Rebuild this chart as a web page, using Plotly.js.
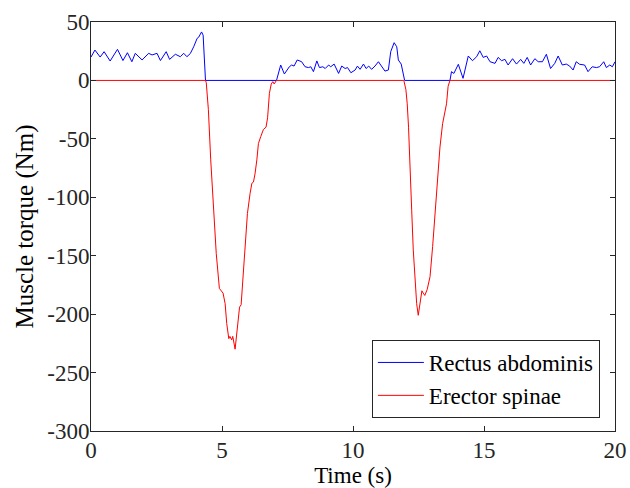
<!DOCTYPE html>
<html>
<head>
<meta charset="utf-8">
<script src="https://cdn.plot.ly/plotly-3.0.1.min.js"></script>
<style>html,body{margin:0;padding:0;background:#fff;}#chart{width:630px;height:488px;}</style>
</head>
<body>
<div id="chart"></div>
<script>
// Rectus abdominis (blue)
const blueT = [0,0.15,0.35,0.5,0.73,1.01,1.22,1.39,1.56,1.69,1.95,2.2,2.33,2.52,2.65,2.87,3.0,3.22,3.41,3.54,3.66,3.79,3.92,4.05,4.11,4.22,4.28,4.37,
  7.08,7.24,7.38,7.57,7.66,7.75,7.87,8.04,8.17,8.3,8.39,8.49,8.62,8.72,8.85,8.94,9.07,9.15,9.28,9.45,9.57,9.7,9.79,9.92,10.08,10.17,10.27,10.4,10.5,10.6,10.71,10.84,10.97,11.09,11.22,11.35,11.44,11.57,11.67,11.73,11.84,11.97,
  13.7,13.76,13.85,14.02,14.2,14.4,14.56,14.72,14.84,14.97,15.1,15.23,15.42,15.54,15.67,15.8,15.92,16.09,16.24,16.4,16.52,16.65,16.78,16.94,17.07,17.23,17.38,17.54,17.7,17.83,17.99,18.14,18.27,18.4,18.52,18.65,18.84,18.97,19.13,19.29,19.41,19.57,19.67,19.8,19.9,20];
const blueV = [20,26,20,24.6,16.6,26.6,17,23.7,16,23.2,17.5,23.2,21.8,23.2,17,24.6,18,22.4,20.3,23.2,20.3,23,28.8,36,37,41.5,38.7,0,
  0,13.2,5.5,11.7,13.2,12.3,17.5,16,11.7,11,11.7,7.5,16.7,11,11.7,10.2,13.2,11.7,14,6,12.3,10.2,11,6.6,8.9,12.3,9.5,14,10.2,12.3,9.5,12.3,16,11.7,8,8.9,24.6,32.3,28.8,17.5,14,0,
  0,7.5,6,13.8,1.8,20.9,16.9,20.3,25.4,19.7,20.9,16,14.6,19.7,16.9,18,13.2,18.6,14,18,14.6,19.7,13.2,18.6,16,16,22.4,10.2,14.6,20.9,13.2,14,12.3,8.9,16,13.8,13.2,7.5,11.7,11,11.7,16,11,13.2,11.7,16];

// Erector spinae (red)
const redT = [0,4.37,4.4,4.48,4.57,4.67,4.78,4.9,4.99,5.04,5.12,5.18,5.26,5.3,5.37,5.41,5.5,5.59,5.67,5.73,5.79,5.88,5.97,6.07,6.14,6.2,6.26,6.33,6.39,6.48,6.58,6.68,6.74,6.81,6.88,6.94,6.99,7.08,
  11.94,12.02,12.07,12.12,12.17,12.24,12.3,12.36,12.43,12.49,12.56,12.63,12.68,12.74,12.83,12.94,13.04,13.13,13.21,13.32,13.42,13.51,13.57,13.63,13.7,20];
const redV = [0,0,-2,-25,-68,-111,-148,-178,-181,-182,-191,-208,-221,-219,-222,-219,-230,-211,-194,-192,-171,-142,-114,-97,-88,-87,-80,-68,-54,-48,-42,-40,-32,-11,-3,-1,-3,0,
  0,-8,-20,-40,-77,-111,-145,-171,-191,-201,-191,-180,-182,-184,-179,-168,-142,-114,-85,-57,-37,-28,-20,-5,0,0];

const seriesNames = ['Rectus abdominis', 'Erector spinae'];
const xTicks = [0,5,10,15,20];
const yTicks = [-300,-250,-200,-150,-100,-50,0,50];

const FONT = '"Liberation Serif", "Times New Roman", Times, serif';
const AX = '#262626';

const traces = [
  {x: blueT, y: blueV, type: 'scatter', mode: 'lines', name: seriesNames[0],
   line: {color: '#0000ff', width: 1}},
  {x: redT, y: redV, type: 'scatter', mode: 'lines', name: seriesNames[1],
   line: {color: '#ff0000', width: 1}}
];

const axisBase = {
  showline: true, linecolor: AX, linewidth: 1, mirror: 'ticks',
  ticks: 'inside', ticklen: 5, tickwidth: 1, tickcolor: AX,
  showgrid: false, zeroline: false,
  tickfont: {family: FONT, size: 23, color: AX}
};

const layout = {
  width: 630, height: 488,
  margin: {l: 91, r: 15, t: 22, b: 57},
  paper_bgcolor: '#fff', plot_bgcolor: '#fff',
  font: {family: FONT, size: 23, color: AX},
  xaxis: Object.assign({}, axisBase, {
    range: [0, 20], tickvals: xTicks, ticktext: xTicks.map(String),
    ticklabelstandoff: -2,
    title: {text: 'Time (s)', font: {family: FONT, size: 23, color: '#000'}, standoff: 0}
  }),
  yaxis: Object.assign({}, axisBase, {
    range: [-300, 50], tickvals: yTicks, ticktext: yTicks.map(String),
    ticklabelstandoff: -4,
    title: {text: 'Muscle torque (Nm)', font: {family: FONT, size: 25, color: '#000'}, standoff: 6}
  }),
  showlegend: true,
  legend: {
    x: 0.536, y: 0.2225, xanchor: 'left', yanchor: 'top',
    bgcolor: '#fff', bordercolor: AX, borderwidth: 1,
    font: {family: FONT, size: 23, color: '#000'},
    itemwidth: 46, tracegroupgap: 0
  }
};

Plotly.newPlot('chart', traces, layout, {displayModeBar: false, staticPlot: true});
</script>
</body>
</html>
